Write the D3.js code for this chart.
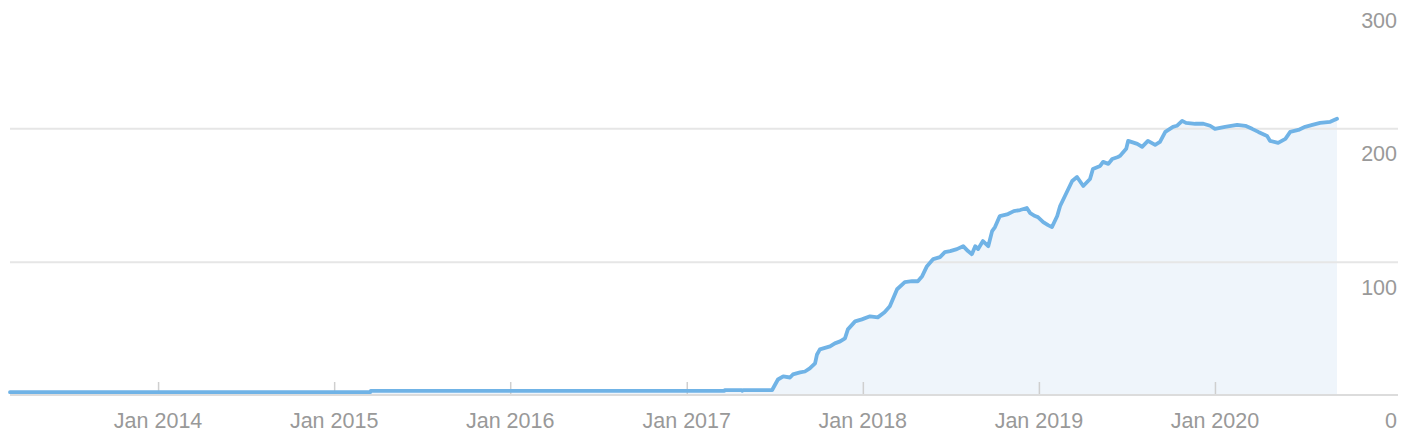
<!DOCTYPE html>
<html>
<head>
<meta charset="utf-8">
<script src="https://cdn.jsdelivr.net/npm/d3@7/dist/d3.min.js"></script>
<style>
  html, body { margin: 0; padding: 0; background: #fff; }
  svg { display: block; }
  text { font-family: "Liberation Sans", Arial, Helvetica, sans-serif; }
</style>
</head>
<body>
<svg id="chart" width="1408" height="444"></svg>
<script>
// ---- data ----
const dates = [
  "2013-02-28","2015-03-17","2015-03-18","2017-03-20","2017-03-21","2017-04-25","2017-04-26","2017-04-28",
  "2017-06-27","2017-07-09","2017-07-20","2017-08-03","2017-08-09","2017-08-24","2017-09-03","2017-09-13",
  "2017-09-24","2017-09-28","2017-10-04","2017-10-25","2017-11-04","2017-11-15","2017-11-25","2017-12-01",
  "2017-12-16","2017-12-30","2018-01-16","2018-02-01","2018-02-15","2018-02-26","2018-03-13","2018-03-29",
  "2018-04-13","2018-04-25","2018-05-04","2018-05-14","2018-05-27","2018-06-10","2018-06-20","2018-07-01",
  "2018-07-15","2018-07-28","2018-08-07","2018-08-15","2018-08-22","2018-08-28","2018-09-07","2018-09-18",
  "2018-09-26","2018-10-02","2018-10-12","2018-10-29","2018-11-10","2018-11-23","2018-12-07","2018-12-14",
  "2018-12-24","2018-12-30","2019-01-10","2019-01-20","2019-01-28","2019-02-08","2019-02-14","2019-02-24",
  "2019-03-11","2019-03-21","2019-04-03","2019-04-17","2019-04-23","2019-05-08","2019-05-14","2019-05-25",
  "2019-06-02","2019-06-14","2019-06-18","2019-07-01","2019-07-05","2019-07-24","2019-08-03","2019-08-15",
  "2019-08-30","2019-09-09","2019-09-20","2019-10-06","2019-10-14","2019-10-25","2019-11-02","2019-11-21",
  "2019-12-08","2019-12-22","2020-01-01","2020-01-22","2020-02-16","2020-03-04","2020-03-18","2020-03-31",
  "2020-04-18","2020-04-24","2020-05-11","2020-05-26","2020-06-05","2020-06-22","2020-07-06","2020-07-21",
  "2020-08-06","2020-08-27","2020-09-10"
];
const values = [
  1, 1, 2, 2, 2.6, 2.6, 2, 2.6,
  2.6, 10.5, 12.8, 12, 14.3, 15.8, 16.5, 18.8,
  22.6, 29.3, 33.1, 35.3, 37.6, 39.1, 41.4, 48.1,
  54.1, 55.6, 57.9, 57.1, 60.9, 65.4, 78.2, 83.5,
  84.2, 84.2, 88, 95.5, 100.8, 102.3, 106, 106.8,
  108.3, 110.5, 106.8, 104.5, 110.5, 108.3, 114.3, 110.5,
  121.8, 124.8, 133.1, 134.6, 136.8, 137.6, 139.1, 135.3,
  133.1, 132.3, 128.6, 126.3, 124.8, 133.1, 140.6, 148.1,
  159.4, 162.4, 155.6, 160.9, 168.4, 170.7, 173.7, 172.2,
  175.9, 177.4, 178.2, 183.5, 189.5, 187.2, 185, 189.5,
  186.5, 188.7, 196.2, 200, 200.8, 204.5, 203, 202.3,
  202.3, 200.8, 198.5, 200, 201.5, 200.8, 198.5, 196.2,
  193.2, 189.5, 188, 191, 196.2, 197.7, 200, 201.5,
  203, 203.8, 206
];
const xTickDates = ["2014-01-01","2015-01-01","2016-01-01","2017-01-01","2018-01-01","2019-01-01","2020-01-01"];
const xTickLabels = ["Jan 2014","Jan 2015","Jan 2016","Jan 2017","Jan 2018","Jan 2019","Jan 2020"];
const yTicks = [0, 100, 200, 300];
const yTickLabels = ["0", "100", "200", "300"];

// ---- drawing ----
const parse = d3.utcParse("%Y-%m-%d");
const data = dates.map((d, i) => ({ date: parse(d), value: values[i] }));

const svg = d3.select("#chart");
const x = d3.scaleUtc()
  .domain([parse("2013-02-28"), parse("2020-09-10")])
  .range([10, 1337]);
const y = d3.scaleLinear().domain([0, 300]).range([395, -5]);
const gridRight = 1398;

// area
svg.append("path")
  .datum(data)
  .attr("fill", "#eff5fb")
  .attr("d", d3.area().x(d => x(d.date)).y0(y(0)).y1(d => y(d.value)));

// gridlines
const yAxis = d3.axisRight(y).tickValues(yTicks.filter(v => v > 0))
  .tickSize(gridRight - 10).tickFormat("");
svg.append("g")
  .attr("transform", "translate(10,0)")
  .call(yAxis)
  .call(g => g.select(".domain").remove())
  .call(g => g.selectAll("line").attr("stroke", "#e6e6e6").attr("stroke-width", 2));

// x ticks (small marks above baseline)
const xAxis = d3.axisTop(x)
  .tickValues(xTickDates.map(parse))
  .tickSize(12)
  .tickFormat("");
svg.append("g")
  .attr("transform", `translate(0,${y(0) - 1})`)
  .call(xAxis)
  .call(g => g.select(".domain").remove())
  .call(g => g.selectAll("line").attr("stroke", "#cfcfcf").attr("stroke-width", 1.5));

// baseline
svg.append("line")
  .attr("x1", 10).attr("x2", gridRight)
  .attr("y1", y(0)).attr("y2", y(0))
  .attr("stroke", "#dcdcdc").attr("stroke-width", 2);

// line
svg.append("path")
  .datum(data)
  .attr("fill", "none")
  .attr("stroke", "#70b3e6")
  .attr("stroke-width", 3.8)
  .attr("stroke-linejoin", "round")
  .attr("stroke-linecap", "round")
  .attr("d", d3.line().x(d => x(d.date)).y(d => y(d.value) - 1.5));

// x labels
svg.append("g").selectAll("text")
  .data(xTickDates)
  .join("text")
  .attr("x", d => x(parse(d)))
  .attr("y", 428)
  .attr("text-anchor", "middle")
  .attr("fill", "#999999")
  .attr("font-size", 21.5)
  .text((d, i) => xTickLabels[i]);

// y labels (below gridlines, right aligned)
svg.append("g").selectAll("text")
  .data(yTicks)
  .join("text")
  .attr("x", 1397)
  .attr("y", d => y(d) + 33)
  .attr("text-anchor", "end")
  .attr("fill", "#999999")
  .attr("font-size", 21.5)
  .text((d, i) => yTickLabels[i]);
</script>
</body>
</html>
